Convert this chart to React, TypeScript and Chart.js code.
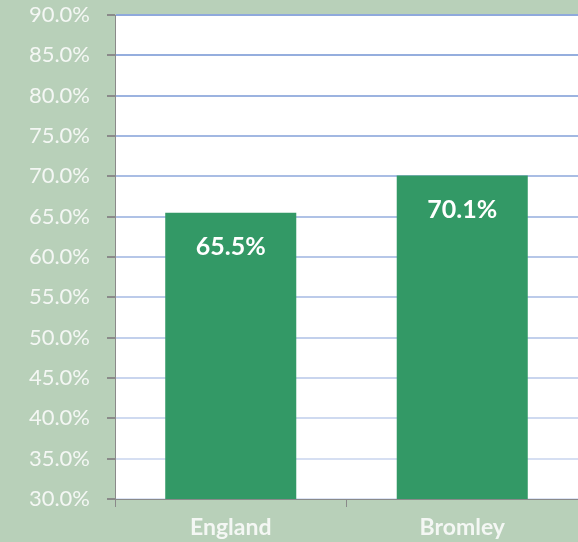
import React, { useEffect, useRef } from "react";
import { Chart, registerables } from "chart.js";

Chart.register(...registerables);

const categories = ["England", "Bromley"];
const values = [65.5, 70.1];
const yMin = 30;
const yMax = 90;
const yStep = 5;

const BG = "#b8d0b9";
const BAR = "#339966";
const TEXT = "#f4f7f4";
const AXIS = "#8a8a8a";

const valueLabels = {
  id: "valueLabels",
  afterDatasetsDraw(chart: any) {
    const ctx = chart.ctx;
    const meta = chart.getDatasetMeta(0);
    ctx.save();
    ctx.fillStyle = "#ffffff";
    ctx.font = "bold 25px Lato, 'Open Sans', sans-serif";
    ctx.textAlign = "center";
    ctx.textBaseline = "middle";
    meta.data.forEach((bar: any, i: number) => {
      ctx.fillText(values[i].toFixed(1) + "%", bar.x, bar.y + 34);
    });
    ctx.restore();
  },
};

const bgPlugin = {
  id: "bgPlugin",
  beforeDraw(chart: any) {
    const { ctx, chartArea } = chart;
    ctx.save();
    ctx.fillStyle = BG;
    ctx.fillRect(0, 0, chart.width, chart.height);
    ctx.fillStyle = "#ffffff";
    ctx.fillRect(chartArea.left, chartArea.top, chartArea.right - chartArea.left, chartArea.bottom - chartArea.top);
    ctx.restore();
  },
};

function lerpColor(t: number) {
  const a = [0x8f, 0xa9, 0xdc];
  const b = [0xdc, 0xe4, 0xf4];
  const c = a.map((v, i) => Math.round(v + (b[i] - v) * t));
  return `rgb(${c[0]},${c[1]},${c[2]})`;
}

export default function App() {
  const ref = useRef<HTMLCanvasElement>(null);
  useEffect(() => {
    if (!ref.current) return;
    const chart = new Chart(ref.current, {
      type: "bar",
      data: {
        labels: categories,
        datasets: [
          {
            data: values,
            backgroundColor: BAR,
            borderWidth: 0,
            categoryPercentage: 1,
            barPercentage: 0.566,
          },
        ],
      },
      plugins: [bgPlugin, valueLabels],
      options: {
        responsive: false,
        animation: false,
        maintainAspectRatio: false,
        layout: { padding: { top: 15, right: 0, left: 0, bottom: 0 } },
        plugins: { legend: { display: false }, tooltip: { enabled: false } },
        scales: {
          x: {
            afterFit: (s: any) => {
              s.height = 43;
              s.paddingLeft = 0;
              s.paddingRight = 0;
            },
            grid: {
              display: true,
              drawOnChartArea: false,
              offset: true,
              tickLength: 8,
              tickColor: AXIS,
            },
            border: { color: AXIS, width: 1 },
            ticks: {
              color: TEXT,
              padding: 7,
              font: { family: "Lato, 'Open Sans', sans-serif", size: 23, weight: "bold" },
            },
          },
          y: {
            min: yMin,
            max: yMax,
            afterFit: (s: any) => {
              s.width = 115;
              s.paddingTop = 0;
              s.paddingBottom = 0;
            },
            grid: {
              color: (c: any) => {
                const v = c.tick ? c.tick.value : yMin;
                return lerpColor((yMax - v) / (yMax - yMin));
              },
              lineWidth: 2,
              tickLength: 8,
              tickColor: AXIS,
            },
            border: { color: AXIS, width: 1 },
            ticks: {
              stepSize: yStep,
              color: TEXT,
              padding: 17,
              font: { family: "Lato, 'Open Sans', sans-serif", size: 22 },
              callback: (v: any) => Number(v).toFixed(1) + "%",
            },
          },
        },
      },
    });
    return () => chart.destroy();
  }, []);
  return (
    <div style={{ position: "fixed", left: 0, top: 0, width: 578, height: 542, background: BG }}>
      <canvas ref={ref} width={578} height={542} style={{ display: "block" }} />
    </div>
  );
}
